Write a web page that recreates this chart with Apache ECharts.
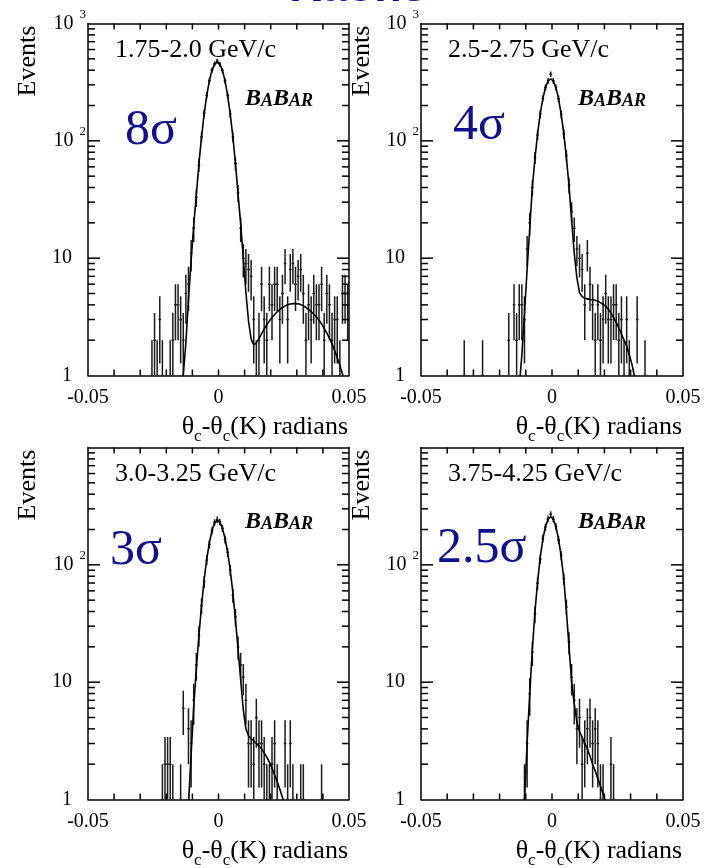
<!DOCTYPE html>
<html><head><meta charset="utf-8">
<script src="https://cdn.jsdelivr.net/npm/echarts@6/dist/echarts.min.js"></script>
<style>html,body{margin:0;padding:0;background:#fff}#c{width:708px;height:868px}</style>
</head><body><div id="c"></div>
<script>
// ---- histogram binning (100 bins over -0.05..0.05) ----
const binLow = -0.05, binWidth = 0.001;

// ---- event counts per bin ----
const counts1 = [
  0,0,0,0,0,0,0,0,0,0,
  0,0,0,0,0,0,0,0,0,0,
  0,0,0,0,1,2,1,3,1,0,
  0,1,2,4,4,3,2,5,6,11,
  18,33,62,108,172,245,325,400,452,478,
  450,398,325,244,170,108,64,36,18,10,
  9,8,7,3,1,2,6,3,2,6,
  4,6,6,3,5,9,3,8,9,6,
  7,8,5,2,4,3,5,4,4,6,
  2,5,4,2,3,3,1,5,5,4];
const counts2 = [
  0,0,0,0,0,0,0,0,0,0,
  0,0,0,0,0,0,1,0,0,0,
  0,0,0,1,0,0,0,0,0,0,
  0,0,0,2,0,4,2,4,4,3,
  12,20,40,72,112,170,230,285,325,370,
  325,285,228,168,115,75,42,25,18,12,
  10,8,4,11,6,4,2,4,2,3,
  5,3,3,4,4,2,3,1,3,1,
  0,0,3,0,0,1,0,0,0,0,
  0,0,0,0,0,0,0,0,0,0];
const counts3 = [
  0,0,0,0,0,0,0,0,0,0,
  0,0,0,0,0,0,0,0,0,0,
  0,0,0,0,0,0,0,0,1,2,
  2,2,1,0,0,1,6,0,4,3,
  7,14,25,45,72,110,150,195,230,242,
  232,205,165,128,90,55,36,20,14,11,
  7,3,3,2,5,3,3,2,1,1,
  2,3,1,0,0,3,1,3,1,0,
  0,1,1,0,0,0,0,0,0,1,
  0,0,0,0,0,0,0,0,0,0];
const counts4 = [
  0,0,0,0,0,0,0,0,0,0,
  0,0,0,0,0,0,0,0,0,0,
  0,0,0,0,0,0,0,0,0,0,
  0,0,0,0,0,0,0,0,0,1,
  3,8,18,38,70,112,168,210,248,270,
  245,212,163,120,76,44,22,11,7,4,
  5,2,3,4,5,3,4,3,1,1,
  0,0,2,1,0,0,0,0,0,0,
  0,0,0,0,0,0,0,0,0,0,
  0,0,0,0,0,0,0,0,0,0];

// ---- fitted curves, sampled at bin centres starting at curveStartN ----
const curveStart1 = -0.0145;
const curve1 = [0.4,1.0,1.9,4.5,9.5,19,34.5,64,108,169,244,325,399,451,470,451,399,325,244,169,108,64,35,19.5,10,5.1,2.9,2.05,1.82,1.9,2.06,2.27,2.49,2.70,2.92,3.12,3.31,3.49,3.66,3.80,3.92,4.00,4.07,4.10,4.10,4.08,4.02,3.92,3.80,3.66,3.50,3.33,3.15,2.97,2.75,2.52,2.30,2.08,1.86,1.63,1.42,1.22,1.03,0.86];
const curveStart2 = -0.0125;
const curve2 = [0.8,1.5,3.4,8,18,40,71,115,169,229,284,324,338,324,284,229,169,115,72,41,21,11,6.8,5.1,4.7,4.55,4.5,4.45,4.42,4.38,4.3,4.18,4.03,3.88,3.68,3.42,3.12,2.84,2.55,2.26,2.0,1.78,1.5,1.25,0.98,0.8];
const curveStart3 = -0.0125;
const curve3 = [0.5,0.9,2.4,6.2,13,25,45,75,112,155,195,228,240,232,205,168,128,90,58,34,19,10.5,5.8,4.0,3.5,3.3,3.15,3.0,2.85,2.7,2.5,2.3,2.08,1.85,1.62,1.42,1.22,1.04,0.88];
const curveStart4 = -0.0115;
const curve4 = [0.4,1.0,3.0,8.0,19,40,72,115,165,212,245,257,245,212,166,118,76,40,20,10,6.5,4.6,3.8,3.4,3.0,2.7,2.35,2.0,1.75,1.5,1.3,1.12,0.95];

// ---- texts and ticks ----
const panelLabels = ['1.75-2.0 GeV/c', '2.5-2.75 GeV/c', '3.0-3.25 GeV/c', '3.75-4.25 GeV/c'];
const sigmaLabels = ['8σ', '4σ', '3σ', '2.5σ'];
const titleText = 'Kaons';
const yName = 'Events';
const xNameRich = 'θ{sub|c}-θ{sub|c}(K) radians';
const xTickVals = [-0.04, -0.03, -0.02, -0.01, 0, 0.01, 0.02, 0.03, 0.04];
const yMajorTicks = [10, 100];
const yMinorTicks = [2,3,4,5,6,7,8,9,20,30,40,50,60,70,80,90,200,300,400,500,600,700,800,900];

const countsAll = [counts1, counts2, counts3, counts4];
const curvesAll = [[curveStart1, curve1], [curveStart2, curve2], [curveStart3, curve3], [curveStart4, curve4]];

const SERIF = '"Liberation Serif", "Times New Roman", serif';
const BLUE = '#10108f';

const grids = [
  {left: 88,  top: 23.5,  width: 261, height: 352},
  {left: 421, top: 23.5,  width: 262, height: 352},
  {left: 88,  top: 447.5, width: 261, height: 352},
  {left: 421, top: 447.5, width: 262, height: 352}
];

const xAxes = [], yAxes = [], series = [], graphics = [];
const axisLineStyle = {color: '#000', width: 1.5};

function yFmt(hideTop) {
  return function (v) {
    const e = Math.round(Math.log10(v));
    if (e === 0) return '1{p| }';
    if (e === 1) return '10{p| }';
    if (hideTop && e === 3) return '';
    return '10{g| }{sup|' + e + '}';
  };
}

function tickLine(x1, y1, x2, y2) {
  return {type: 'line', shape: {x1: x1, y1: y1, x2: x2, y2: y2}, style: {stroke: '#000', lineWidth: 1.5}};
}

grids.forEach((g, k) => {
  xAxes.push({
    type: 'value', gridIndex: k, min: -0.05, max: 0.05, interval: 0.05, position: 'bottom',
    axisLine: {show: true, lineStyle: axisLineStyle, onZero: false},
    axisTick: {show: false}, minorTick: {show: false}, splitLine: {show: false},
    axisLabel: {
      show: true, margin: 12, color: '#000', fontFamily: SERIF, fontSize: 20,
      formatter: v => Math.abs(v) < 1e-9 ? '0' : String(+v.toFixed(2))
    }
  });
  xAxes.push({
    type: 'value', gridIndex: k, min: -0.05, max: 0.05, interval: 0.05, position: 'top',
    axisLine: {show: true, lineStyle: axisLineStyle, onZero: false},
    axisTick: {show: false}, splitLine: {show: false}, axisLabel: {show: false}
  });
  const hideTop = k >= 2;
  yAxes.push({
    type: 'log', logBase: 10, gridIndex: k, min: 1, max: 1000, position: 'left',
    axisLine: {show: true, lineStyle: axisLineStyle, onZero: false},
    axisTick: {show: false}, splitLine: {show: false},
    axisLabel: {
      show: true, margin: 2, color: '#000', fontFamily: SERIF, fontSize: 20,
      formatter: yFmt(hideTop),
      rich: {
        p: {width: 14},
        g: {width: 6},
        sup: {fontSize: 13, fontFamily: SERIF, color: '#000', padding: [0, 0, 18, 0]}
      }
    }
  });
  yAxes.push({
    type: 'log', logBase: 10, gridIndex: k, min: 1, max: 1000, position: 'right',
    axisLine: {show: true, lineStyle: axisLineStyle, onZero: false},
    axisTick: {show: false}, splitLine: {show: false}, axisLabel: {show: false}
  });

  const xi = 2 * k, yi = 2 * k;
  // error bars
  const counts = countsAll[k];
  const errData = [];
  counts.forEach((n, i) => { if (n > 0) errData.push([binLow + (i + 0.5) * binWidth, n]); });
  series.push({
    type: 'custom', xAxisIndex: xi, yAxisIndex: yi, data: errData, clip: true, silent: true, z: 2,
    renderItem: function (params, api) {
      const x = api.value(0), n = api.value(1), s = Math.sqrt(n);
      const top = api.coord([x, n + s]);
      const bot = api.coord([x, Math.max(n - s, 1)]);
      const mid = api.coord([x, n]);
      return {type: 'group', children: [
        {type: 'line', shape: {x1: top[0], y1: top[1], x2: bot[0], y2: bot[1]}, style: {stroke: '#1a1a1a', lineWidth: 1.5}},
        {type: 'line', shape: {x1: mid[0] - 1.3, y1: mid[1], x2: mid[0] + 1.3, y2: mid[1]}, style: {stroke: '#1a1a1a', lineWidth: 1.5}}
      ]};
    }
  });
  // fitted curve
  const cs = curvesAll[k];
  series.push({
    type: 'line', xAxisIndex: xi, yAxisIndex: yi, showSymbol: false, symbol: 'none', smooth: false,
    clip: true, silent: true, z: 3,
    lineStyle: {color: '#000', width: 1.6},
    data: cs[1].map((v, j) => [cs[0] + j * binWidth, v])
  });
  // y ticks (major + minor) on left & right, inside the frame
  const yTickData = yMajorTicks.map(v => [0, v, 12]).concat(yMinorTicks.map(v => [0, v, 7]));
  series.push({
    type: 'custom', xAxisIndex: xi, yAxisIndex: yi, clip: false, silent: true, z: 5,
    data: yTickData,
    renderItem: function (params, api) {
      const v = api.value(1), len = api.value(2);
      const l = api.coord([-0.05, v]), r = api.coord([0.05, v]);
      return {type: 'group', children: [
        tickLine(l[0], l[1], l[0] + len, l[1]),
        tickLine(r[0] - len, r[1], r[0], r[1])
      ]};
    }
  });
  // x ticks on bottom & top, inside the frame
  series.push({
    type: 'custom', xAxisIndex: xi, yAxisIndex: yi, clip: false, silent: true, z: 5,
    data: xTickVals.map(v => [v, 1]),
    renderItem: function (params, api) {
      const v = api.value(0);
      const b = api.coord([v, 1]), t = api.coord([v, 1000]);
      return {type: 'group', children: [
        tickLine(b[0], b[1], b[0], b[1] - 6),
        tickLine(t[0], t[1], t[0], t[1] + 6)
      ]};
    }
  });
});

// ---- text placements ----
const labelPos = [[115, 50.5], [448, 50.5], [115, 474], [448, 474]];
const babarPos = [[245, 99], [578, 99], [245, 522], [578, 522]];
const sigmaPos = [[125, 131], [453, 126], [110, 551], [437, 549]];
const eventsPos = [[28, 61], [362, 61], [28, 485], [362, 485]];
const xNamePos = [[348, 427], [682, 427], [348, 851], [682, 851]];

for (let k = 0; k < 4; k++) {
  graphics.push({type: 'text', x: labelPos[k][0], y: labelPos[k][1], silent: true,
    style: {text: panelLabels[k], font: '26px ' + SERIF, fill: '#000', align: 'left', verticalAlign: 'middle', textAlign: 'left', textVerticalAlign: 'middle'}});
  graphics.push({type: 'text', x: babarPos[k][0], y: babarPos[k][1], silent: true,
    style: {text: '{b|B}{s|A}{b|B}{s|AR}', fill: '#000', align: 'left', verticalAlign: 'middle', textAlign: 'left', textVerticalAlign: 'middle',
      font: 'italic bold 24px ' + SERIF,
      rich: {
        b: {font: 'italic bold 24px ' + SERIF, fill: '#000', verticalAlign: 'bottom'},
        s: {font: 'italic bold 18px ' + SERIF, fill: '#000', verticalAlign: 'bottom', padding: [0, 0, 1, 0]}
      }}});
  graphics.push({type: 'text', x: sigmaPos[k][0], y: sigmaPos[k][1], silent: true,
    style: {text: sigmaLabels[k], font: '50px ' + SERIF, fill: BLUE, align: 'left', verticalAlign: 'middle', textAlign: 'left', textVerticalAlign: 'middle'}});
  graphics.push({type: 'text', x: eventsPos[k][0], y: eventsPos[k][1], rotation: Math.PI / 2, silent: true,
    style: {text: yName, font: '26px ' + SERIF, fill: '#000', align: 'center', verticalAlign: 'middle', textAlign: 'center', textVerticalAlign: 'middle'}});
  graphics.push({type: 'text', x: xNamePos[k][0], y: xNamePos[k][1], silent: true,
    style: {text: xNameRich, font: '26px ' + SERIF, fill: '#000', align: 'right', verticalAlign: 'middle', textAlign: 'right', textVerticalAlign: 'middle',
      rich: {sub: {font: '17px ' + SERIF, fill: '#000', padding: [20, 0, 0, 0]}}}});
}
graphics.push({type: 'text', x: 358, y: -11.5, silent: true, z: 100,
  style: {text: titleText, font: 'bold 45px "Liberation Sans", Arial, sans-serif', fill: BLUE, align: 'center', verticalAlign: 'middle', textAlign: 'center', textVerticalAlign: 'middle'}});

const chart = echarts.init(document.getElementById('c'), null, {renderer: 'canvas', width: 708, height: 868});
chart.setOption({
  backgroundColor: '#fff',
  animation: false,
  grid: grids,
  xAxis: xAxes,
  yAxis: yAxes,
  series: series,
  graphic: {elements: graphics}
});
</script>
</body></html>
